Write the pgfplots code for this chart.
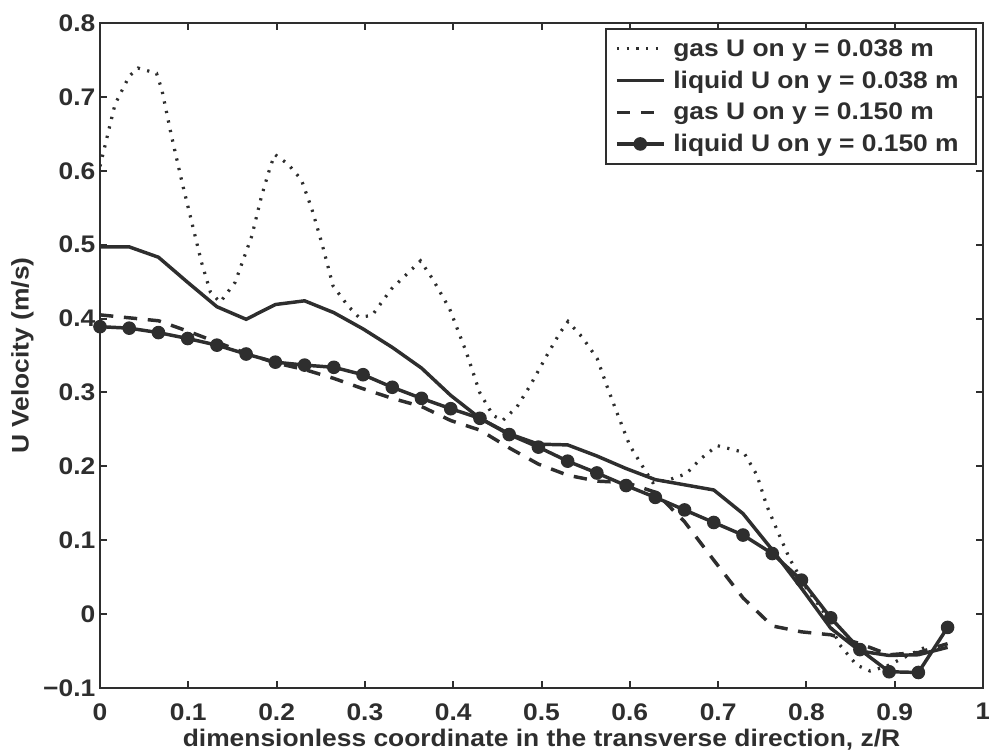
\documentclass[border=0pt]{standalone}
\usepackage{fontspec}
\setmainfont{Liberation Sans}[FakeStretch=1.1]
\usepackage{pgfplots}
\usepackage{pgfplotstable}
\pgfplotsset{compat=1.18}

\definecolor{ink}{gray}{0.18}
\newcommand{\lblfont}{\fontsize{18}{21}\selectfont\bfseries}

% gas U on y = 0.038 m
\pgfplotstableread{
z      u
0.000  0.606
0.017  0.690
0.033  0.728
0.043  0.739
0.064  0.732
0.070  0.710
0.081  0.647
0.093  0.584
0.104  0.530
0.115  0.476
0.125  0.436
0.136  0.422
0.153  0.449
0.172  0.512
0.183  0.566
0.193  0.606
0.198  0.622
0.213  0.609
0.228  0.588
0.240  0.548
0.251  0.503
0.264  0.444
0.281  0.417
0.293  0.402
0.308  0.404
0.330  0.440
0.349  0.462
0.363  0.478
0.377  0.453
0.396  0.413
0.415  0.354
0.430  0.300
0.445  0.269
0.456  0.262
0.472  0.280
0.487  0.309
0.506  0.350
0.521  0.381
0.530  0.396
0.546  0.375
0.563  0.346
0.574  0.309
0.585  0.274
0.600  0.228
0.615  0.199
0.626  0.178
0.645  0.182
0.664  0.190
0.680  0.210
0.699  0.228
0.729  0.219
0.744  0.188
0.755  0.147
0.766  0.116
0.781  0.075
0.800  0.035
0.819  0.004
0.838 -0.042
0.857 -0.069
0.872 -0.077
0.890 -0.071
0.910 -0.059
0.936 -0.044
}\gasA

% liquid U on y = 0.038 m
\pgfplotstableread{
z       u
0.0000  0.497
0.0331  0.497
0.0662  0.483
0.0993  0.449
0.1324  0.416
0.1655  0.399
0.1986  0.419
0.2317  0.424
0.2648  0.408
0.2979  0.386
0.3310  0.361
0.3641  0.333
0.3972  0.296
0.4303  0.265
0.4634  0.244
0.4965  0.230
0.5296  0.229
0.5627  0.214
0.5958  0.197
0.6289  0.182
0.6620  0.175
0.6951  0.168
0.7282  0.136
0.7613  0.087
0.7944  0.035
0.8275 -0.019
0.8606 -0.050
0.8937 -0.056
0.9268 -0.055
0.9599 -0.045
}\liqA

% gas U on y = 0.150 m
\pgfplotstableread{
z       u
0.0000  0.405
0.0331  0.401
0.0662  0.397
0.0993  0.383
0.1324  0.368
0.1655  0.353
0.1986  0.340
0.2317  0.331
0.2648  0.319
0.2979  0.305
0.3310  0.292
0.3641  0.281
0.3972  0.262
0.4303  0.249
0.4634  0.225
0.4965  0.203
0.5296  0.188
0.5627  0.180
0.5958  0.178
0.6289  0.165
0.6620  0.125
0.6951  0.073
0.7282  0.022
0.7613 -0.016
0.7944 -0.024
0.8275 -0.028
0.8606 -0.040
0.8937 -0.055
0.9268 -0.052
0.9599 -0.040
}\gasB

% liquid U on y = 0.150 m
\pgfplotstableread{
z       u
0.0000  0.389
0.0331  0.387
0.0662  0.381
0.0993  0.373
0.1324  0.364
0.1655  0.352
0.1986  0.341
0.2317  0.337
0.2648  0.334
0.2979  0.324
0.3310  0.307
0.3641  0.292
0.3972  0.278
0.4303  0.265
0.4634  0.243
0.4965  0.226
0.5296  0.207
0.5627  0.191
0.5958  0.174
0.6289  0.158
0.6620  0.141
0.6951  0.124
0.7282  0.107
0.7613  0.082
0.7944  0.046
0.8275 -0.005
0.8606 -0.048
0.8937 -0.078
0.9268 -0.079
0.9599 -0.018
}\liqB

\begin{document}
\begin{tikzpicture}
\begin{axis}[
  at={(0pt,0pt)}, anchor=south west,
  width=662.25pt, height=498.75pt, scale only axis,
  xmin=0, xmax=1, ymin=-0.1, ymax=0.8,
  xtick={0,0.1,0.2,0.3,0.4,0.5,0.6,0.7,0.8,0.9,1},
  xticklabels={0,0.1,0.2,0.3,0.4,0.5,0.6,0.7,0.8,0.9,1},
  ytick={-0.1,0,0.1,0.2,0.3,0.4,0.5,0.6,0.7,0.8},
  yticklabels={−0.1,0,0.1,0.2,0.3,0.4,0.5,0.6,0.7,0.8},
  tick label style={font=\lblfont, ink},
  xticklabel style={yshift=-8pt},
  xlabel={dimensionless coordinate in the transverse direction, z/R},
  ylabel={U Velocity (m/s)},
  every axis x label/.style={at={(axis description cs:0.5,-0.078)}, anchor=center, font=\lblfont, ink},
  every axis y label/.style={at={(axis description cs:-0.088,0.5)}, rotate=90, anchor=center, font=\lblfont, ink},
  axis line style={line width=1.8pt, ink},
  tick style={line width=1.5pt, ink},
  major tick length=5pt,
  tick align=inside,
  legend cell align=left,
  legend style={at={(axis description cs:1,1)}, anchor=north east,
    xshift=-4.5pt, yshift=-4pt, draw=ink, line width=1.5pt,
    font=\lblfont, text=ink,
    inner xsep=7pt, inner ysep=5pt, row sep=4.5pt,
    nodes={inner ysep=2.5pt, inner xsep=6pt}},
  legend image code/.code={%
    \draw[mark repeat=2, mark phase=2, #1]
      plot coordinates {(0pt,0pt) (17.5pt,0pt) (35pt,0pt)};},
  legend image post style={line width=2.5pt},
]
\addplot[ink, line width=2.4pt, dash pattern=on 1.7pt off 5.6pt] table[x=z, y=u] {\gasA};
\addlegendentry{gas U on y = 0.038 m}
\addplot[ink, line width=2.6pt] table[x=z, y=u] {\liqA};
\addlegendentry{liquid U on y = 0.038 m}
\addplot[ink, line width=2.6pt, dash pattern=on 10pt off 8pt] table[x=z, y=u] {\gasB};
\addlegendentry{gas U on y = 0.150 m}
\addplot[ink, line width=2.6pt, mark=*, mark size=4.6pt,
  mark options={solid, fill=ink, draw=ink, line width=1pt}] table[x=z, y=u] {\liqB};
\addlegendentry{liquid U on y = 0.150 m}
\end{axis}
\pgfresetboundingbox
\path[use as bounding box] (-75pt,-51pt) rectangle (666.75pt,516pt);
\end{tikzpicture}
\end{document}
